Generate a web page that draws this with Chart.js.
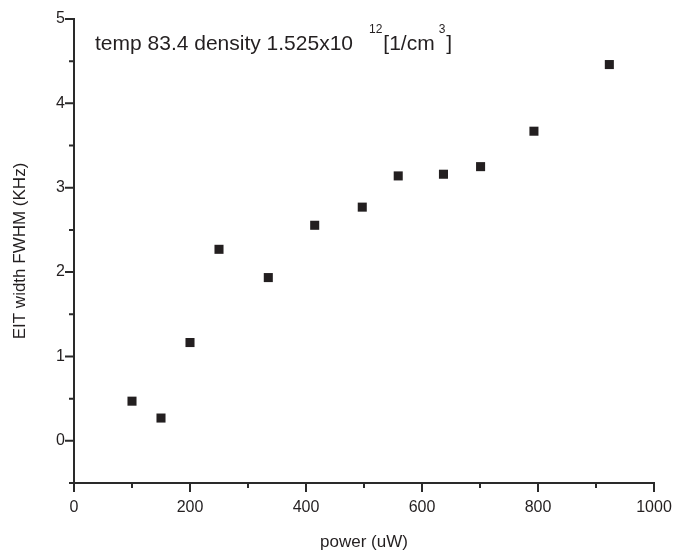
<!DOCTYPE html>
<html>
<head>
<meta charset="utf-8">
<script src="https://cdn.jsdelivr.net/npm/chart.js@4/dist/chart.umd.min.js"></script>
<style>
  html, body { margin: 0; padding: 0; background: #fff; }
  #wrap { width: 675px; height: 557px; position: relative; }
</style>
</head>
<body>
<div id="wrap"><canvas id="c" width="675" height="557"></canvas></div>
<script>
// ---- data ----
const powerUW = [100, 150, 200, 250, 335, 415, 497, 559, 637, 701, 793, 923];
const eitWidthKHz = [0.47, 0.27, 1.165, 2.27, 1.935, 2.555, 2.77, 3.14, 3.16, 3.25, 3.67, 4.46];
const xTickValues = [0, 200, 400, 600, 800, 1000];
const yTickValues = [0, 1, 2, 3, 4, 5];
const xTitle = 'power (uW)';
const yTitle = 'EIT width FWHM (KHz)';
const noteMain = 'temp 83.4 density 1.525x10';
const noteExp = '12';
const noteUnit = '[1/cm';
const noteUnitExp = '3';
const noteClose = ']';

const FONT = '"Liberation Sans", Arial, Helvetica, sans-serif';
const INK = '#231f20';

const axesPlugin = {
  id: 'axesPlugin',
  afterDatasetsDraw(chart) {
    const ctx = chart.ctx;
    const xs = chart.scales.x, ys = chart.scales.y;
    const x0 = xs.getPixelForValue(xs.min), x1 = xs.getPixelForValue(xs.max);
    const y0 = ys.getPixelForValue(ys.min), y1 = ys.getPixelForValue(ys.max);
    ctx.save();
    ctx.strokeStyle = '#2a2a2a';
    ctx.lineWidth = 2;
    ctx.lineCap = 'butt';
    ctx.beginPath();
    ctx.moveTo(x0, y1 - 1); ctx.lineTo(x0, y0 + 1);
    ctx.moveTo(x0 - 1, y0); ctx.lineTo(x1 + 1, y0);
    // x ticks
    for (let v = xs.min; v <= xs.max + 1e-9; v += 100) {
      const px = xs.getPixelForValue(v);
      const len = (Math.round(v) % 200 === 0) ? 9 : 5;
      ctx.moveTo(px, y0); ctx.lineTo(px, y0 + len);
    }
    // y ticks
    for (let i = 0; i <= 11; i++) {
      const v = ys.min + i * 0.5;
      const py = ys.getPixelForValue(v);
      const len = (Math.abs(v - Math.round(v)) < 1e-9) ? 9 : 5;
      ctx.moveTo(x0, py); ctx.lineTo(x0 - len, py);
    }
    ctx.stroke();

    // annotation text
    ctx.fillStyle = INK;
    ctx.textBaseline = 'alphabetic';
    ctx.textAlign = 'left';
    const big = '21px ' + FONT, small = '12px ' + FONT;
    let x = xs.left + 21;
    const base = ys.top + 31;
    ctx.font = big;
    ctx.fillText(noteMain, x, base);
    x += ctx.measureText(noteMain).width + 16;
    ctx.font = small;
    ctx.fillText(noteExp, x, base - 17);
    x += ctx.measureText(noteExp).width + 1;
    ctx.font = big;
    ctx.fillText(noteUnit, x, base);
    x += ctx.measureText(noteUnit).width + 4;
    ctx.font = small;
    ctx.fillText(noteUnitExp, x, base - 17);
    x += ctx.measureText(noteUnitExp).width + 1;
    ctx.font = big;
    ctx.fillText(noteClose, x, base);
    ctx.restore();
  }
};

new Chart(document.getElementById('c'), {
  type: 'scatter',
  data: {
    datasets: [{
      data: powerUW.map((p, i) => ({ x: p, y: eitWidthKHz[i] })),
      pointStyle: 'rect',
      pointRadius: 6.4,
      pointHoverRadius: 6.4,
      backgroundColor: INK,
      borderColor: INK,
      borderWidth: 0
    }]
  },
  options: {
    responsive: false,
    animation: false,
    events: [],
    layout: { padding: { left: 0, right: 21, top: 19, bottom: 0 } },
    plugins: { legend: { display: false }, tooltip: { enabled: false }, title: { display: false } },
    scales: {
      x: {
        type: 'linear',
        min: 0, max: 1000,
        afterFit(s) { s.height = 74; s.paddingLeft = 0; s.paddingRight = 0; },
        afterBuildTicks(s) { s.ticks = xTickValues.map(v => ({ value: v })); },
        grid: { display: false, drawTicks: false },
        border: { display: false },
        ticks: { color: INK, font: { family: FONT, size: 16 }, padding: 15, maxRotation: 0, autoSkip: false,
                 callback: v => String(v) },
        title: { display: true, text: xTitle, color: INK, font: { family: FONT, size: 17 }, padding: { top: 4, bottom: 4 } }
      },
      y: {
        type: 'linear',
        min: -0.5, max: 5,
        afterFit(s) { s.width = 74; s.paddingTop = 0; s.paddingBottom = 0; },
        afterBuildTicks(s) { s.ticks = yTickValues.map(v => ({ value: v })); },
        grid: { display: false, drawTicks: false },
        border: { display: false },
        ticks: { color: INK, font: { family: FONT, size: 16 }, padding: 9, autoSkip: false,
                 callback: v => String(v) },
        title: { display: true, text: yTitle, color: INK, font: { family: FONT, size: 17 }, padding: { top: 10, bottom: 10 } }
      }
    }
  },
  plugins: [axesPlugin]
});
</script>
</body>
</html>
